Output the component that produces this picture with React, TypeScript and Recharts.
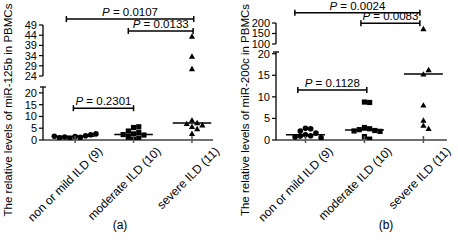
import React from 'react';
import { ScatterChart, Scatter, XAxis, YAxis, ReferenceLine } from 'recharts';

const FONT = '"Liberation Sans", Arial, Helvetica, sans-serif';

const groups = ['non or mild ILD (9)', 'moderate ILD (10)', 'severe ILD (11)'];
const comparisons = [[1, 3], [2, 3], [1, 2]];

// (a) miR-125b
const mir125bMild = [1.5, 1.1, 0.6, 1.8, 1.3, 2.2, 0.9, 2.6, 1.6];
const mir125bModerate = [5.3, 5.6, 3.8, 3.2, 2.6, 2.1, 2.3, 1.2, 0.8, 0.2];
const mir125bSevere = [43.3, 33.5, 27.4, 8.3, 7.2, 6.8, 6.2, 5.6, 4.6, 2.6];
const mir125bMedians = [1.6, 2.3, 7.2];
const mir125bUpperTicks = [24, 29, 34, 39, 44, 49];
const mir125bLowerTicks = [0, 5, 10, 15, 20];
const mir125bPValues = ['0.0107', '0.0133', '0.2301'];

// (b) miR-200c
const mir200cMild = [2.7, 2.6, 2.1, 1.6, 1.2, 1.0, 0.9, 0.7, 0.5];
const mir200cModerate = [8.8, 8.7, 2.9, 2.6, 2.4, 2.2, 2.1, 2.0, 0.8, 0.2];
const mir200cSevere = [171, 15.2, 16.2, 8.0, 4.5, 3.3, 2.6];
const mir200cMedians = [1.2, 2.3, 15.3];
const mir200cUpperTicks = [100, 150, 200];
const mir200cLowerTicks = [0, 5, 10, 15, 20];
const mir200cPValues = ['0.0024', '0.0083', '0.1128'];

const W = 229;
const H = 240;
const AXIS_Y = 140; // pixel row of the zero line

const panels = [
  {
    left: 0,
    axisX: 43,
    plotRight: 213,
    xDomain: [0.45, 3.36],
    upDomain: [24, 49],
    upTop: 25,
    upBottom: 76,
    lowDomain: [0, 22.5],
    lowTop: 87,
    series: [mir125bMild, mir125bModerate, mir125bSevere],
    medians: mir125bMedians,
    upTicks: mir125bUpperTicks,
    lowTicks: mir125bLowerTicks,
    pValues: mir125bPValues,
    bracketLevels: [51.9, 46.1, 13.5],
    bracketSpans: [[0.85, 3.03], [1.91, 3.02], [0.97, 2.0]],
    title: 'The relative levels of miR-125b in PBMCs',
    titleX: 12,
    tag: '(a)',
    tagX: 120,
  },
  {
    left: 229,
    axisX: 47,
    plotRight: 218,
    xDomain: [0.5, 3.4],
    upDomain: [100, 200],
    upTop: 23,
    upBottom: 44,
    lowDomain: [0, 20.4],
    lowTop: 52,
    series: [mir200cMild, mir200cModerate, mir200cSevere],
    medians: mir200cMedians,
    upTicks: mir200cUpperTicks,
    lowTicks: mir200cLowerTicks,
    pValues: mir200cPValues,
    bracketLevels: [249, 199, 11.6],
    bracketSpans: [[0.82, 2.94], [1.94, 2.94], [0.87, 2.04]],
    title: 'The relative levels of miR-200c in PBMCs',
    titleX: 249,
    tag: '(b)',
    tagX: 386,
  },
];

const Dot = (p: any) => <circle cx={p.cx} cy={p.cy} r={2.8} fill="#000" />;
const Square = (p: any) => <rect x={p.cx - 2.6} y={p.cy - 2.6} width={5.2} height={5.2} fill="#000" />;
const Triangle = (p: any) => (
  <polygon points={`${p.cx},${p.cy - 3.3} ${p.cx - 3.1},${p.cy + 2.1} ${p.cx + 3.1},${p.cy + 2.1}`} fill="#000" />
);
const shapes = [Dot, Square, Triangle];

const CategoryTick = (props: any) => {
  const { x, y, payload } = props;
  const tx = x + 28;
  const ty = y + 12;
  return (
    <g>
      <line x1={x} x2={x} y1={y - 4} y2={y + 3} stroke="#555" strokeWidth={1.5} />
      <text x={tx} y={ty} transform={`rotate(-45 ${tx} ${ty})`} textAnchor="end" fontSize={12} fontFamily={FONT} fill="#000">
        {groups[payload.value - 1]}
      </text>
    </g>
  );
};

const Bracket = (props: any) => {
  const { x1, y1, x2, y2, p } = props;
  return (
    <g>
      <line x1={x1} y1={y1} x2={x2} y2={y2} stroke="#000" strokeWidth={1.5} />
      <line x1={x1} x2={x1} y1={y1 - 3} y2={y1 + 3} stroke="#000" strokeWidth={1.5} />
      <line x1={x2} x2={x2} y1={y2 - 3} y2={y2 + 3} stroke="#000" strokeWidth={1.5} />
      <text x={(x1 + x2) / 2} y={y1 - 3} textAnchor="middle" fontSize={11.5} fontFamily={FONT} fill="#000">
        <tspan fontStyle="italic">P</tspan>
        {` = ${p}`}
      </text>
    </g>
  );
};

const Panel = ({ cfg }: { cfg: any }) => {
  const xScale = (cfg.plotRight - cfg.axisX) / (cfg.xDomain[1] - cfg.xDomain[0]);
  const lowScale = (AXIS_Y - cfg.lowTop) / cfg.lowDomain[1];
  const upScale = (cfg.upBottom - cfg.upTop) / (cfg.upDomain[1] - cfg.upDomain[0]);
  const toPx = (v: number) =>
    v <= cfg.lowDomain[1] ? AXIS_Y - v * lowScale : cfg.upBottom - (v - cfg.upDomain[0]) * upScale;
  const step = 5.2 / xScale;

  // side-by-side placement of overlapping points, like a column scatter
  const series = cfg.series.map((vals: number[], gi: number) => {
    const placed: { py: number; off: number }[] = [];
    return vals.map((v) => {
      const py = toPx(v);
      for (let k = 0; ; k++) {
        const off = (k % 2 ? 1 : -1) * Math.ceil(k / 2) * step;
        if (!placed.some((q) => Math.abs(q.py - py) < 5 && Math.abs(q.off - off) < step * 0.99)) {
          placed.push({ py, off });
          return { x: gi + 1 + off, y: v };
        }
      }
    });
  });

  const segment = (isUp: boolean) => {
    const dom = isUp ? cfg.upDomain : cfg.lowDomain;
    const inSeg = (v: number) => v >= dom[0] && v <= dom[1];
    return (
      <div style={{ position: 'absolute', left: cfg.left, top: 0 }}>
        <ScatterChart
          width={W}
          height={H}
          margin={{ top: isUp ? cfg.upTop : cfg.lowTop, right: W - cfg.plotRight, bottom: isUp ? H - cfg.upBottom : 0, left: 0 }}
        >
          <XAxis
            type="number"
            dataKey="x"
            domain={cfg.xDomain}
            allowDataOverflow
            hide={isUp}
            ticks={[1, 2, 3]}
            interval={0}
            height={H - AXIS_Y}
            axisLine={{ stroke: '#707070', strokeWidth: 2 }}
            tickLine={false}
            tickSize={0}
            tickMargin={0}
            tick={<CategoryTick />}
          />
          <YAxis
            type="number"
            dataKey="y"
            domain={dom}
            allowDataOverflow
            ticks={isUp ? cfg.upTicks : cfg.lowTicks}
            interval={0}
            width={cfg.axisX}
            tickSize={4}
            tickMargin={2}
            axisLine={{ stroke: '#000', strokeWidth: 1.3 }}
            tickLine={{ stroke: '#000', strokeWidth: 1.2 }}
            tick={{ fontSize: 11, fill: '#000', fontFamily: FONT }}
          />
          {series.map((pts: any[], gi: number) => (
            <Scatter
              key={gi}
              data={pts.filter((p) => inSeg(p.y))}
              shape={shapes[gi]}
              isAnimationActive={false}
            />
          ))}
          {cfg.medians.map((m: number, gi: number) =>
            inSeg(m) ? (
              <ReferenceLine
                key={`m${gi}`}
                segment={[{ x: gi + 1 - 0.33, y: m }, { x: gi + 1 + 0.33, y: m }]}
                stroke="#000"
                strokeWidth={1.5}
                ifOverflow="visible"
              />
            ) : null
          )}
          {!isUp && (
            <ReferenceLine
              segment={[
                { x: cfg.xDomain[0] - 3 / xScale, y: dom[1] },
                { x: cfg.xDomain[0] + 3 / xScale, y: dom[1] },
              ]}
              stroke="#000"
              strokeWidth={1.3}
              ifOverflow="visible"
            />
          )}
          {comparisons.map((c, i) => {
            const level = cfg.bracketLevels[i];
            if ((level >= cfg.upDomain[0] - 1) !== isUp) return null;
            const [a, b] = cfg.bracketSpans[i];
            return (
              <ReferenceLine
                key={`b${i}`}
                segment={[{ x: a, y: level }, { x: b, y: level }]}
                ifOverflow="visible"
                shape={(sp: any) => <Bracket {...sp} p={cfg.pValues[i]} />}
              />
            );
          })}
        </ScatterChart>
      </div>
    );
  };

  return (
    <>
      {segment(false)}
      {segment(true)}
    </>
  );
};

export default function App() {
  return (
    <div style={{ position: 'absolute', left: 0, top: 0, width: 458, height: 240, background: '#fff', fontFamily: FONT }}>
      {panels.map((cfg, i) => (
        <Panel key={i} cfg={cfg} />
      ))}
      <svg width={458} height={240} style={{ position: 'absolute', left: 0, top: 0, pointerEvents: 'none' }}>
        {panels.map((cfg, i) => (
          <g key={i}>
            <text
              transform={`translate(${cfg.titleX},110) rotate(-90)`}
              textAnchor="middle"
              fontSize={11.5}
              fontFamily={FONT}
              fill="#000"
            >
              {cfg.title}
            </text>
            <text x={cfg.tagX} y={229} textAnchor="middle" fontSize={12} fontFamily={FONT} fill="#000">
              {cfg.tag}
            </text>
          </g>
        ))}
      </svg>
    </div>
  );
}
